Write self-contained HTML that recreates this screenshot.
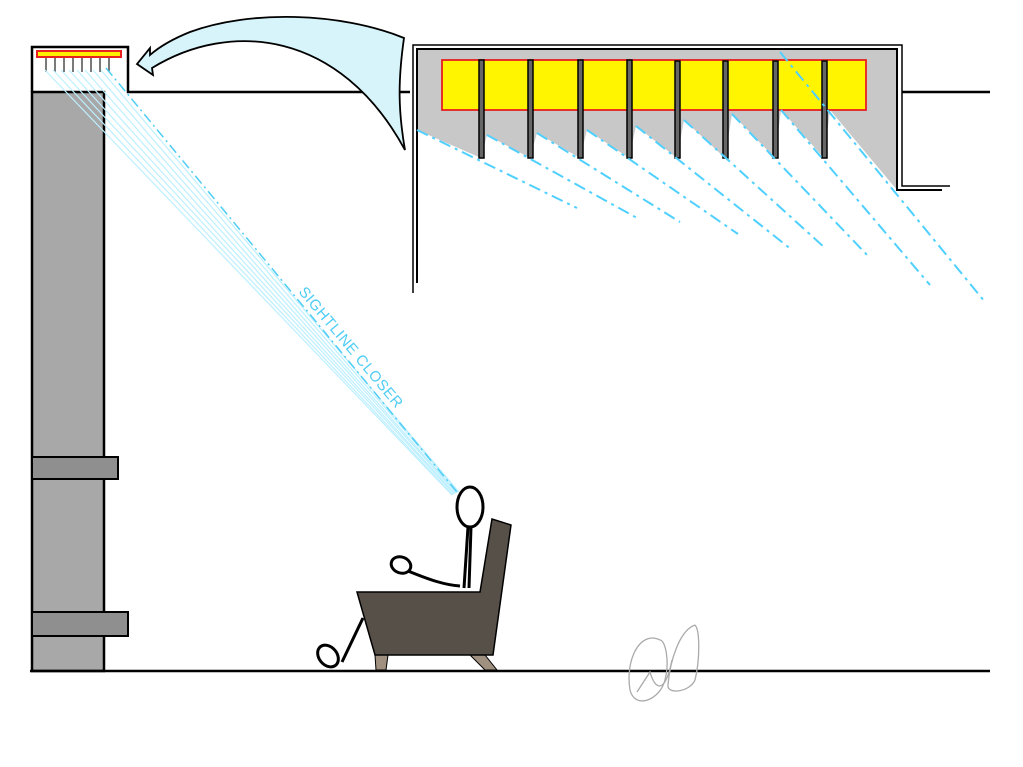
<!DOCTYPE html>
<html><head><style>html,body{margin:0;padding:0;background:#fff}svg{display:block}</style></head>
<body>
<svg width="1023" height="767" viewBox="0 0 1023 767" xmlns="http://www.w3.org/2000/svg">
<rect width="1023" height="767" fill="#fff"/>
<rect x="32" y="92" width="72" height="579" fill="#a8a8a8" stroke="#000" stroke-width="2.5"/>
<path d="M32,92 L32,47 L128,47 L128,92 L410,92" fill="none" stroke="#000" stroke-width="2.5"/>
<rect x="32" y="457" width="86" height="22" fill="#8f8f8f" stroke="#000" stroke-width="2"/>
<rect x="32" y="612" width="96" height="24" fill="#8f8f8f" stroke="#000" stroke-width="2"/>
<line x1="30" y1="671" x2="990" y2="671" stroke="#000" stroke-width="2.5"/>
<g stroke="#333" stroke-width="1.3">
<line x1="46" y1="57" x2="46" y2="72"/><line x1="55" y1="57" x2="55" y2="72"/><line x1="64" y1="57" x2="64" y2="72"/><line x1="73" y1="57" x2="73" y2="72"/><line x1="82" y1="57" x2="82" y2="72"/><line x1="91" y1="57" x2="91" y2="72"/><line x1="100" y1="57" x2="100" y2="72"/><line x1="109" y1="57" x2="109" y2="72"/>
</g>
<rect x="37" y="51" width="84" height="6" fill="#ffee00" stroke="#e82020" stroke-width="2"/>
<g stroke="#bdefff" stroke-width="1.2">
<line x1="45" y1="70" x2="452" y2="495"/><line x1="53" y1="70" x2="453" y2="495"/><line x1="61" y1="70" x2="454" y2="494"/><line x1="69" y1="70" x2="455" y2="494"/><line x1="77" y1="70" x2="456" y2="493"/><line x1="85" y1="70" x2="457" y2="493"/><line x1="93" y1="70" x2="458" y2="492"/><line x1="101" y1="70" x2="459" y2="492"/>
</g>
<line x1="106" y1="68" x2="457" y2="492" stroke="#4fcdf5" stroke-width="1.5" stroke-dasharray="10,4,2,4"/>
<text x="0" y="0" transform="translate(298,292) rotate(50)" font-family="Liberation Sans, sans-serif" font-size="15" fill="#4fcdf5" letter-spacing="0.5">SIGHTLINE CLOSER</text>
<path d="M404,38 C340,12 250,10 190,32 C170,40 158,48 150,55 L150,48 L137,64 L153,75 L152,68 C230,20 340,30 405,150 C398,110 398,80 404,38 Z" fill="#d6f4fa" stroke="#000" stroke-width="1.8"/>
<path d="M417,130 L481,158 L487,135 L530,158 L537,133 L580,158 L587,130 L629,158 L636,126 L677,158 L684,120 L725,158 L732,114 L775,158 L781,110 L824,158 L830,110 L897,190 L897,50 L417,50 Z" fill="#c8c8c8"/>
<path d="M413,293 L413,45 L902,45 L902,186 L950,186" fill="none" stroke="#000" stroke-width="1.5"/>
<path d="M417,283 L417,49 L897,49 L897,190 L942,190" fill="none" stroke="#000" stroke-width="2"/>
<line x1="902" y1="92" x2="990" y2="92" stroke="#000" stroke-width="2.5"/>
<rect x="442" y="60" width="424" height="50" fill="#fff500" stroke="#e82020" stroke-width="1.8"/>
<g fill="#666" stroke="#000" stroke-width="1.5">
<rect x="479" y="60" width="5" height="98"/><rect x="528" y="60" width="5" height="98"/><rect x="578" y="60" width="5" height="98"/><rect x="627" y="60" width="5" height="98"/><rect x="675" y="61" width="5" height="97"/><rect x="723" y="61" width="5" height="97"/><rect x="773" y="61" width="5" height="97"/><rect x="822" y="61" width="5" height="97"/>
</g>
<g stroke="#4fd0ff" stroke-width="2" stroke-dasharray="12,5,3,5" fill="none">
<line x1="417" y1="130" x2="577" y2="208"/>
<line x1="487" y1="135" x2="637" y2="218"/>
<line x1="537" y1="133" x2="680" y2="222"/>
<line x1="587" y1="130" x2="738" y2="234"/>
<line x1="636" y1="126" x2="792" y2="250"/>
<line x1="684" y1="120" x2="825" y2="248"/>
<line x1="732" y1="114" x2="870" y2="258"/>
<line x1="781" y1="110" x2="930" y2="285"/>
<line x1="780" y1="52" x2="985" y2="302"/>
</g>
<polygon points="375,655 388,655 386,670 376,670" fill="#a09080" stroke="#000" stroke-width="1"/>
<polygon points="470,655 485,655 497,670 485,670" fill="#a09080" stroke="#000" stroke-width="1"/>
<path d="M363,618 L342,662" stroke="#000" stroke-width="3" fill="none"/>
<ellipse cx="328" cy="656" rx="9" ry="12" transform="rotate(-40 328 656)" fill="#fff" stroke="#000" stroke-width="3"/>
<polygon points="357,592 480,592 492,519 511,525 493,655 375,655" fill="#575048" stroke="#000" stroke-width="1.5"/>
<path d="M468,527 L464,588 M471,527 L469,588" stroke="#000" stroke-width="3" fill="none"/>
<path d="M408,571 C430,580 445,585 460,586" stroke="#000" stroke-width="3" fill="none"/>
<ellipse cx="401" cy="565" rx="10" ry="8" transform="rotate(20 401 565)" fill="#fff" stroke="#000" stroke-width="3"/>
<ellipse cx="470" cy="507" rx="13" ry="20" fill="#fff" stroke="#000" stroke-width="3"/>
<g fill="none" stroke="#aaa" stroke-width="1.3">
<path d="M660,640 C640,630 625,660 630,690 C635,710 660,700 665,680 C670,660 665,640 660,640"/>
<path d="M695,625 C680,630 670,660 668,685 C667,695 690,692 695,680 C700,660 700,630 695,625"/>
<path d="M637,692 L650,672 C655,690 665,695 672,660"/>
</g>
</svg>
</body></html>
